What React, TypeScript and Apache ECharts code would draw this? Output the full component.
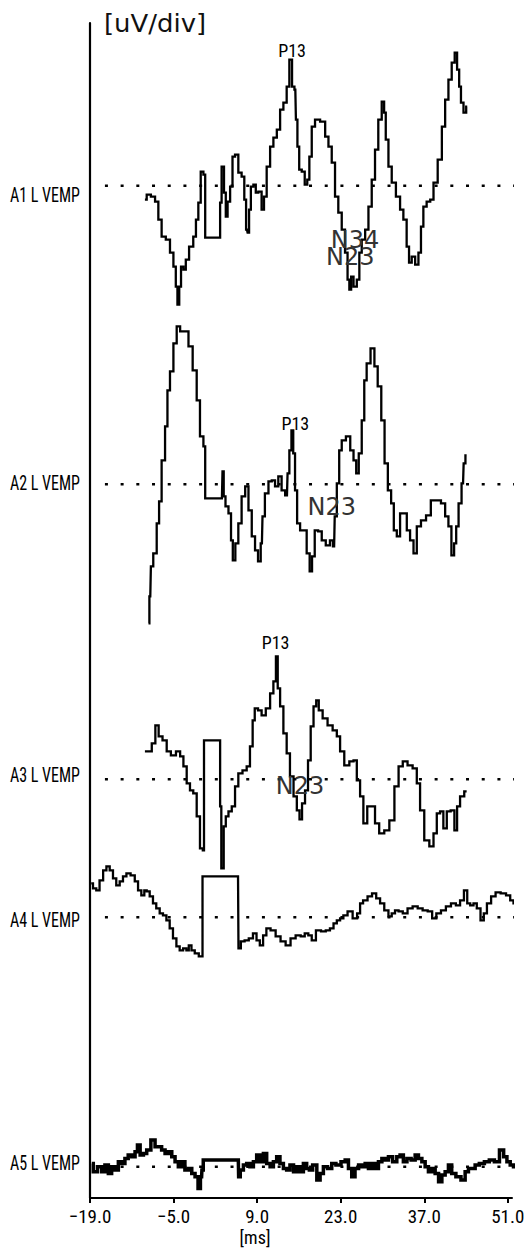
import React, { useEffect, useRef } from "react";
import * as echarts from "echarts";

// ---------- data (time in ms, amplitude in µV-like units relative to each trace baseline) ----------
const xTicks = [-19, -5, 9, 23, 37, 51];
const traceLabels = ["A1 L VEMP", "A2 L VEMP", "A3 L VEMP", "A4 L VEMP", "A5 L VEMP"];

const a1: number[][] = [[-9.8,-1.4],[-9.2,-0.9],[-8.4,-1.1],[-7.8,-1.6],[-7.3,-3.4],[-6.7,-5.1],[-5.9,-5.4],[-5.3,-6.7],[-4.75,-8.1],[-4.5,-10.1],[-4.2,-11.9],[-3.9,-10.1],[-3.6,-8.1],[-3.1,-8.4],[-2.8,-7.4],[-2.0,-6.1],[-1.4,-5.1],[-1.1,-3.4],[-0.6,-1.7],[-0.3,1.4],[0.3,1.1],[0.3,-5.2],[2.8,-5.2],[2.8,-1.7],[3.3,1.9],[3.6,-0.7],[3.9,-3.1],[4.2,-1.6],[4.75,-0.1],[5.0,2.9],[5.6,3.1],[6.1,1.3],[6.7,0.9],[7.0,-1.4],[7.3,-4.4],[7.5,-4.7],[7.8,-2.4],[8.1,-0.1],[8.65,0.1],[8.9,-0.7],[9.5,-0.6],[10.0,-2.4],[10.3,-1.1],[10.9,1.9],[11.45,3.9],[12.0,4.8],[12.6,5.6],[13.1,7.6],[13.7,8.3],[14.2,9.9],[14.6,12.6],[15.1,9.9],[15.4,9.6],[15.6,6.6],[15.9,3.9],[16.2,1.6],[16.75,1.4],[17.2,0.1],[17.6,0.6],[17.9,2.9],[18.4,5.9],[19.0,6.6],[20.1,6.4],[20.7,4.9],[21.2,3.9],[21.8,2.3],[22.3,-1.1],[22.9,-2.7],[23.45,-4.4],[24.0,-6.7],[24.3,-9.4],[24.6,-10.4],[24.9,-9.1],[25.4,-10.1],[26.0,-9.4],[26.25,-6.7],[26.8,-5.4],[27.4,-4.4],[27.9,-2.1],[28.5,0.6],[29.0,3.6],[29.6,6.6],[30.15,8.4],[30.4,7.3],[30.7,4.6],[31.3,1.9],[31.8,0.3],[32.7,-1.1],[33.2,-2.4],[33.8,-3.4],[34.3,-6.1],[34.6,-7.7],[35.2,-7.1],[35.75,-7.9],[36.3,-6.7],[36.6,-4.1],[37.1,-2.1],[37.7,-1.6],[38.3,-1.4],[38.8,0.3],[39.7,2.6],[40.2,5.9],[40.8,8.6],[41.3,10.6],[41.9,12.3],[42.3,13.3],[42.7,11.6],[43.0,9.9],[43.3,8.3],[43.85,7.3],[44.2,7.9]];

const a2: number[][] = [[-9.2,-13.9],[-8.9,-11.2],[-8.7,-8.2],[-8.1,-6.9],[-7.55,-3.9],[-7.3,-1.7],[-6.7,2.4],[-6.15,5.8],[-5.9,9.4],[-5.3,11.3],[-4.75,14.1],[-4.2,15.8],[-3.6,15.3],[-2.8,15.3],[-2.2,13.8],[-1.4,11.4],[-0.85,8.4],[-0.3,4.8],[0.3,3.8],[0.3,-1.4],[3.1,-1.4],[3.3,1.3],[3.5,-1.2],[3.9,-2.2],[4.5,-2.9],[4.75,-5.6],[5.1,-7.6],[5.6,-5.9],[6.1,-3.9],[6.7,-1.2],[7.3,-0.2],[7.8,-2.6],[8.4,-5.2],[8.9,-6.6],[9.4,-7.7],[9.8,-5.9],[10.0,-3.2],[10.6,-0.9],[11.2,0.3],[11.7,0.4],[12.3,-0.2],[12.8,0.8],[13.4,-0.6],[14.0,-1.1],[14.2,1.1],[14.6,3.4],[14.9,5.4],[15.2,3.1],[15.5,-0.6],[15.9,-3.9],[16.5,-4.6],[17.0,-4.6],[17.6,-6.9],[18.0,-8.7],[18.4,-7.2],[18.9,-4.6],[19.55,-4.7],[20.1,-5.6],[20.9,-6.1],[21.5,-5.6],[21.9,-6.2],[22.1,-3.2],[22.6,0.1],[22.9,3.4],[23.45,4.4],[24.3,4.8],[24.9,3.4],[25.4,2.4],[25.8,1.1],[26.25,3.1],[26.8,6.4],[27.1,10.4],[27.6,12.1],[28.4,13.6],[28.9,11.8],[29.5,9.8],[30.1,6.4],[30.6,2.1],[31.2,-0.6],[31.7,-1.9],[32.1,-4.6],[32.7,-5.2],[33.2,-2.9],[33.8,-2.9],[34.35,-4.6],[34.9,-5.6],[35.5,-6.9],[36.0,-4.2],[36.9,-3.6],[37.7,-3.1],[38.5,-1.6],[39.4,-1.6],[40.2,-1.9],[40.8,-3.2],[41.3,-4.2],[41.8,-7.1],[42.2,-5.9],[42.5,-4.2],[43.0,-1.9],[43.5,0.1],[43.7,2.1],[44.1,2.9]];

const a3: number[][] = [[-9.8,2.8],[-8.9,2.8],[-8.4,3.6],[-7.7,5.4],[-7.3,4.3],[-6.4,3.9],[-5.9,2.8],[-5.0,2.4],[-4.2,2.8],[-3.6,2.3],[-3.1,1.3],[-2.5,-0.4],[-2.0,-1.1],[-1.4,-1.4],[-0.85,-3.7],[-0.3,-6.9],[0.1,-7.1],[0.1,3.9],[2.8,3.9],[2.8,-2.7],[3.2,-8.9],[3.6,-4.7],[3.9,-3.7],[4.5,-3.2],[5.0,-2.7],[5.6,-0.7],[6.1,0.6],[7.0,0.9],[7.5,1.3],[8.1,3.3],[8.4,5.9],[8.8,7.1],[9.5,6.9],[10.0,6.4],[10.9,7.1],[11.45,8.6],[12.0,9.8],[12.3,12.3],[12.6,9.1],[13.1,7.3],[13.7,4.6],[14.2,2.6],[14.8,0.3],[15.4,-1.7],[15.9,-3.1],[16.3,-4.0],[16.75,-2.4],[17.3,-1.1],[17.75,1.9],[18.2,5.3],[18.7,7.3],[19.1,7.9],[19.55,6.9],[20.4,6.1],[21.2,5.4],[22.1,4.9],[22.6,4.3],[23.2,2.8],[24.0,1.4],[24.9,1.8],[25.4,1.9],[26.0,-0.1],[26.5,-1.7],[27.1,-4.4],[27.8,-2.7],[28.5,-2.7],[29.0,-4.4],[29.9,-5.4],[30.7,-5.1],[31.6,-4.1],[32.4,-0.7],[33.0,1.3],[33.8,1.8],[34.6,1.4],[35.5,1.1],[36.0,-0.4],[36.6,-3.1],[37.4,-6.1],[38.3,-6.7],[38.8,-5.4],[39.4,-3.4],[39.9,-3.2],[40.5,-4.9],[41.05,-3.2],[41.8,-3.1],[42.3,-5.1],[42.7,-2.7],[43.3,-1.7],[44.1,-1.2]];

const a4: number[][] = [[-18.8,3.4],[-18.2,2.9],[-17.7,2.7],[-17.1,3.7],[-16.5,4.7],[-16.0,5.1],[-15.4,4.7],[-14.9,3.9],[-14.3,3.2],[-13.75,3.6],[-13.2,4.1],[-12.6,4.4],[-11.8,4.2],[-11.2,3.6],[-10.7,2.7],[-10.1,2.2],[-9.7,2.7],[-9.3,2.6],[-8.7,2.1],[-8.2,1.4],[-7.6,0.9],[-7.05,0.4],[-6.5,0.2],[-5.9,-0.3],[-5.4,-1.1],[-4.8,-2.1],[-4.25,-2.9],[-3.7,-3.3],[-3.1,-3.1],[-2.6,-3.3],[-2.3,-2.8],[-1.7,-3.3],[-1.2,-3.6],[-0.35,-3.9],[0.05,4.1],[5.8,4.1],[5.95,-3.1],[6.6,-2.4],[7.2,-2.3],[8.0,-2.1],[8.6,-1.6],[9.2,-2.3],[9.7,-2.8],[10.3,-1.8],[10.8,-1.1],[11.7,-1.3],[12.5,-1.9],[13.35,-2.4],[14.2,-2.8],[15.0,-2.1],[15.9,-1.8],[16.7,-1.9],[17.25,-1.6],[17.9,-1.8],[18.4,-2.3],[19.3,-1.3],[20.1,-1.4],[20.9,-1.3],[21.5,-1.1],[22.1,-0.6],[22.6,-0.3],[23.2,-0.1],[23.7,0.2],[24.6,0.6],[25.4,-0.1],[26.1,0.4],[26.4,1.4],[27.1,1.7],[27.9,2.1],[28.6,2.4],[29.3,1.9],[29.9,1.4],[30.7,0.7],[31.3,0.1],[31.8,0.4],[32.4,0.7],[33.0,0.6],[33.8,0.4],[34.6,0.9],[35.5,1.1],[36.3,0.9],[37.15,0.7],[38.0,0.6],[38.65,-0.1],[39.4,0.4],[40.2,0.7],[41.05,1.1],[41.9,1.4],[42.7,1.2],[43.3,1.7],[44.0,2.7],[44.4,1.4],[45.0,1.2],[45.5,1.4],[46.1,0.9],[46.75,-0.3],[47.2,0.4],[47.8,1.4],[48.6,2.1],[49.3,2.5],[50.3,2.4],[51.1,2.2],[51.7,1.7],[52.2,1.4],[53.1,1.2]];

const a5: number[][] = [[-18.7,0.33],[-18.2,-0.5],[-17.3,0],[-16.8,-0.5],[-16.2,0.17],[-15.65,-0.67],[-15.1,0],[-14.5,-0.33],[-14.0,0.5],[-13.4,0.33],[-12.9,0.83],[-12.3,1.17],[-11.7,1.0],[-11.2,1.5],[-10.9,2.17],[-10.3,1.17],[-9.8,1.33],[-9.2,1.67],[-8.4,2.67],[-7.8,2.0],[-7.3,2.0],[-6.7,1.67],[-6.15,1.33],[-5.6,1.5],[-5.0,1.0],[-4.5,0.5],[-3.9,0],[-3.4,0.5],[-2.8,-0.33],[-2.2,-0.17],[-1.7,-0.67],[-1.1,-1.0],[-0.7,-2.17],[-0.3,-1.0],[-0.2,-0.33],[0.15,0.67],[5.85,0.67],[5.95,-1.0],[6.4,-0.33],[7.0,0.17],[7.5,0.33],[8.1,0],[8.65,0.5],[9.2,1.17],[9.8,0.5],[10.3,1.33],[10.9,0.33],[11.45,0],[12.0,0.5],[12.55,1.0],[13.1,0.33],[13.7,-0.17],[14.2,-0.33],[14.8,0.17],[15.4,-0.5],[15.9,0],[16.5,-0.5],[17.0,0.33],[17.6,-0.17],[17.9,-0.33],[18.7,0.17],[19.3,-1.33],[19.8,-0.67],[20.4,0],[21.2,-0.17],[21.8,0.33],[22.6,0.17],[23.5,0.5],[24.0,0.67],[24.6,-0.17],[25.1,-1.0],[25.7,-0.17],[26.3,0.17],[26.8,0],[27.4,0.33],[27.9,-0.17],[28.5,0.33],[29.05,-0.17],[29.6,0.5],[30.2,0.83],[30.7,0.67],[31.3,1.0],[32.1,0.5],[32.7,1.0],[33.2,1.17],[33.8,0.5],[34.4,0.83],[35.2,0.67],[35.75,1.17],[36.3,0.83],[36.9,0.5],[37.4,0],[38.0,-0.5],[38.55,-0.17],[39.1,-0.67],[39.7,-1.5],[40.2,-0.83],[40.8,-0.5],[41.3,0.17],[41.9,-0.67],[42.7,-1.0],[43.6,-1.33],[44.1,-0.5],[44.7,-0.17],[45.25,-0.17],[45.8,0.17],[46.65,0.33],[47.5,0.5],[48.3,0.67],[49.2,0.5],[50.0,1.67],[50.6,1.0],[51.1,0.5],[51.7,0.17],[52.2,0],[52.8,-0.5]];

const traces = [a1, a2, a3, a4, a5];

// peak annotations: [trace index, text, ms, amplitude, style]
const peakMarks: [number, string, number, number, "p" | "n"][] = [
  [0, "P13", 14.85, 13.5, "p"],
  [0, "N34", 25.4, -5.4, "n"],
  [0, "N23", 24.6, -7.1, "n"],
  [1, "P13", 15.4, 6.1, "p"],
  [1, "N23", 21.5, -2.3, "n"],
  [2, "P13", 12.1, 13.7, "p"],
  [2, "N23", 16.2, -0.7, "n"],
];

const xAxisEnd = 51.7;
const baselineSpan = [-16.5, 52.3];

// ---------- layout ----------
const W = 532;
const H = 1256;
const GRID = { left: 90, right: 20, top: 23, bottom: 58 };
const PX_PER_UNIT = 10;
const BASELINE_ROW = [185.7, 484.3, 779.3, 917.3, 1166.7];
const LABEL_ROW = [195, 483, 775, 920, 1163];
const NARROW = "'Liberation Sans Narrow', 'Arial Narrow', 'Roboto Condensed', sans-serif";
const WIDE = "'DejaVu Sans', Verdana, sans-serif";

export default function App() {
  const ref = useRef<HTMLDivElement>(null);

  useEffect(() => {
    if (!ref.current) return;
    const chart = echarts.init(ref.current, undefined, { renderer: "svg" });
    const yMax = (H - GRID.top - GRID.bottom) / PX_PER_UNIT;
    const offsets = BASELINE_ROW.map((r) => (H - GRID.bottom - r) / PX_PER_UNIT);

    const baselineSeries = offsets.map((off) => ({
      type: "line",
      data: baselineSpan.map((t) => [t, off]),
      symbol: "none",
      clip: false,
      silent: true,
      z: 2,
      lineStyle: { color: "#000", width: 2.5, type: [3, 12.7] },
    }));

    const traceSeries = traces.map((tr, i) => ({
      type: "line",
      data: tr.map(([t, a]) => [t, offsets[i] + a]),
      symbol: "none",
      showSymbol: false,
      clip: false,
      step: "middle",
      z: 3,
      lineStyle: { color: "#000", width: i === 4 ? 3.5 : 2.3, join: "miter" },
      markPoint: {
        symbol: "rect",
        symbolSize: 1,
        itemStyle: { color: "rgba(0,0,0,0)" },
        data: peakMarks
          .filter((m) => m[0] === i)
          .map((m) => ({
            coord: [m[2], offsets[i] + m[3]],
            label: {
              show: true,
              position: "inside",
              formatter: m[1],
              color: m[4] === "p" ? "#000" : "#333",
              fontFamily: m[4] === "p" ? NARROW : WIDE,
              fontSize: m[4] === "p" ? 18 : 24,
            },
          })),
      },
    }));

    const xBase = {
      type: "value",
      min: xTicks[0],
      max: xAxisEnd,
      splitLine: { show: false },
    };

    chart.setOption({
      animation: false,
      backgroundColor: "#fff",
      grid: { ...GRID },
      xAxis: [
        {
          ...xBase,
          axisLine: { show: true, onZero: false, lineStyle: { color: "#000", width: 2 } },
          axisTick: { show: true, length: 5, customValues: xTicks, lineStyle: { color: "#000", width: 2 } },
          axisLabel: {
            show: true,
            margin: 9,
            color: "#000",
            fontSize: 19,
            fontFamily: NARROW,
            customValues: xTicks,
            formatter: (v: number) => (v < 0 ? "\u2212" : "") + Math.abs(v).toFixed(1),
          },
        },
        {
          ...xBase,
          axisLine: { show: false },
          axisTick: { show: true, inside: true, length: 5, customValues: xTicks, lineStyle: { color: "#000", width: 2 } },
          axisLabel: { show: false },
        },
      ],
      yAxis: {
        type: "value",
        min: 0,
        max: yMax,
        axisLine: { show: true, onZero: false, lineStyle: { color: "#000", width: 2.2 } },
        axisTick: { show: false },
        axisLabel: { show: false },
        splitLine: { show: false },
      },
      graphic: [
        {
          type: "text",
          x: 104,
          y: 24,
          scaleX: 1.08,
          style: {
            text: "[uV/div]",
            fontFamily: WIDE,
            fontSize: 24,
            fill: "#111",
            textVerticalAlign: "middle",
          },
        },
        ...traceLabels.map((t, i) => ({
          type: "text",
          x: 80,
          y: LABEL_ROW[i],
          scaleX: 0.8,
          style: {
            text: t,
            fontFamily: NARROW,
            fontSize: 20,
            fill: "#000",
            textAlign: "right",
            textVerticalAlign: "middle",
          },
        })),
        {
          type: "text",
          x: 255,
          y: 1237,
          style: {
            text: "[ms]",
            fontFamily: NARROW,
            fontSize: 18,
            fill: "#000",
            textAlign: "center",
            textVerticalAlign: "middle",
          },
        },
      ],
      series: [...baselineSeries, ...traceSeries],
    });

    return () => chart.dispose();
  }, []);

  return (
    <div
      ref={ref}
      style={{ position: "absolute", left: 0, top: 0, width: W, height: H, background: "#fff" }}
    />
  );
}
